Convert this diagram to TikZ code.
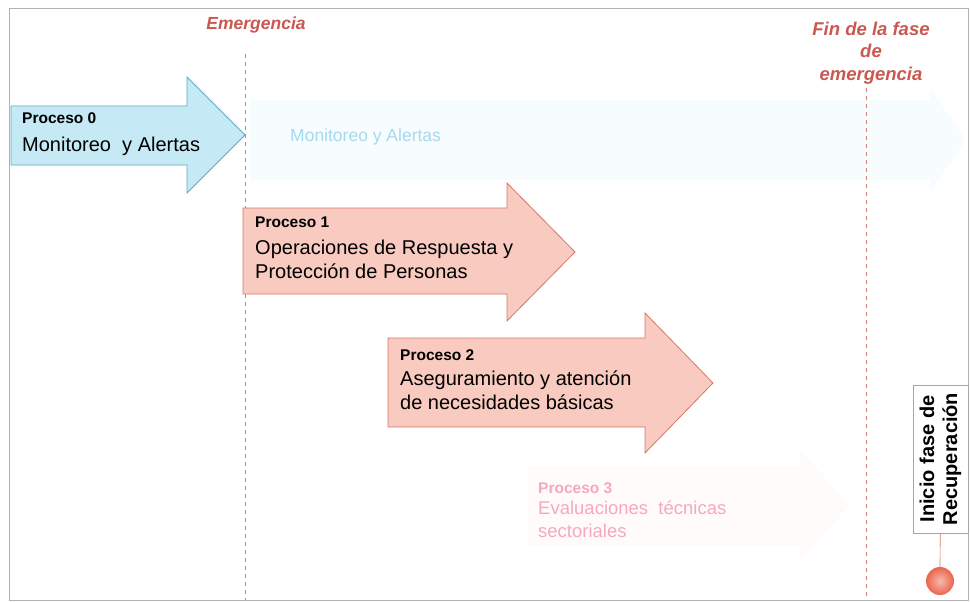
\documentclass[tikz,border=0pt]{standalone}
\usepackage{fontspec}
\setmainfont{Liberation Sans}
\usetikzlibrary{positioning}

\definecolor{emerred}{RGB}{202,88,80}
\definecolor{dashred}{RGB}{215,125,115}
\definecolor{bluefill}{RGB}{198,233,246}
\definecolor{blueline}{RGB}{95,170,200}
\definecolor{redfill}{RGB}{248,202,192}
\definecolor{redline}{RGB}{212,122,102}
\definecolor{fadeblue}{RGB}{168,216,238}
\definecolor{fadepink}{RGB}{245,168,192}
\definecolor{dotred}{RGB}{236,100,78}

\begin{document}
\begin{tikzpicture}[x=1pt, y=-1pt]

        % --- Styles ---
        \tikzset{
            phase/.style={text=emerred, font=\fontsize{18.5}{22.5}\selectfont\bfseries\itshape, align=center, inner sep=0},
            cutline/.style={dashred, line width=0.6pt, dash pattern=on 4pt off 4pt},
            bluearrow/.style={fill=bluefill, draw=blueline, line width=0.8pt},
            redarrow/.style={fill=redfill, draw=redline, line width=0.8pt},
            proctitle/.style={anchor=west, inner sep=0, font=\fontsize{15.5}{17}\selectfont\bfseries},
            proctext/.style={anchor=north west, inner sep=0, align=left, font=\fontsize{20}{24}\selectfont},
        }

        % --- Frame ---
        \useasboundingbox (0,0) rectangle (970,602);
        \draw[gray!60, line width=0.8pt] (9,8) rectangle (968,600);

        % --- Faded background bands ---
        \fill[cyan!3] (250,100) -- (930,100) -- (930,88) -- (966,140) -- (930,192) -- (930,180) -- (250,180) -- cycle;
        \fill[red!1.5] (528,466) -- (800,466) -- (800,450) -- (850,505) -- (800,560) -- (800,546) -- (528,546) -- cycle;

        % --- Phase markers ---
        \node[phase, font=\fontsize{17.5}{21}\selectfont\bfseries\itshape] (emerg) at (256,25) {Emergencia};
        \node[phase] (finfase) at (871,53) {Fin de la fase\\de\\emergencia};
        \coordinate (emergbot) at (245,600);
        \coordinate (finbot) at (866,600);
        \draw[cutline] (245,54) -- (emergbot);
        \draw[cutline] (866,88) -- (finbot);

        % --- Proceso 0 ---
        \draw[bluearrow] (11,106) -- (187,106) -- (187,77) -- (245,135) -- (187,193) -- (187,165) -- (11,165) -- cycle;
        \node[proctitle] (p0title) at (22,118) {Proceso 0};
        \node[proctext, anchor=west] (p0text) at (22,146) {Monitoreo\ \ y Alertas};
        \node[anchor=west, inner sep=0, text=fadeblue, font=\fontsize{17.5}{19}\selectfont] (p0fade) at (290,137) {Monitoreo y Alertas};

        % --- Proceso 1 ---
        \draw[redarrow] (243,208) -- (507,208) -- (507,183) -- (575,252) -- (507,321) -- (507,294) -- (243,294) -- cycle;
        \node[proctitle] (p1title) at (255,222) {Proceso 1};
        \node[proctext] (p1text) at (255,240) {Operaciones\ de Respuesta\ y\\Protecci\'on\ de Personas};

        % --- Proceso 2 ---
        \draw[redarrow] (388,338) -- (645,338) -- (645,313) -- (713,383) -- (645,453) -- (645,427) -- (388,427) -- cycle;
        \node[proctitle] (p2title) at (400,355) {Proceso 2};
        \node[proctext] (p2text) at (400,371) {Aseguramiento\ y atenci\'on\\de necesidades\ b\'asicas};

        % --- Proceso 3 (faded) ---
        \node[proctitle, text=fadepink] (p3title) at (538,488) {Proceso 3};
        \node[proctext, text=fadepink, font=\fontsize{18.5}{23}\selectfont] (p3text) at (538,501) {Evaluaciones\ \ t\'ecnicas\\sectoriales};

        % --- Recovery marker ---
        \node[draw=gray!70, fill=white, line width=0.7pt, minimum width=148pt, minimum height=55pt, inner sep=1pt, rotate=90, align=center, font=\fontsize{20}{23}\selectfont\bfseries] (recbox) at (940.5,459) {Inicio fase de\\Recuperaci\'on};
        \node[circle, minimum size=28pt, inner sep=0, shading=radial, inner color=dotred!45!white, outer color=dotred] (recdot) at (940,581) {};
        \draw[redline, line width=0.7pt] (recbox) -- (recdot);

\end{tikzpicture}
\end{document}
